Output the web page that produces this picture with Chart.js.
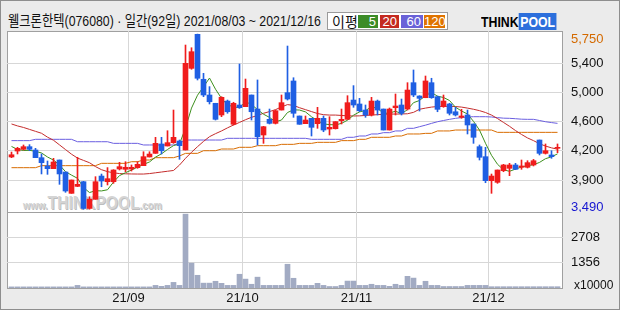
<!DOCTYPE html>
<html>
<head>
<meta charset="utf-8">
<script src="https://cdn.jsdelivr.net/npm/chart.js@4.4.1/dist/chart.umd.min.js"></script>
<style>
body { margin: 0; background: #ebebeb; }
#wrap { position: relative; width: 620px; height: 310px; overflow: hidden; background: #ebebeb; }
#frame { position: absolute; left: 0; top: 0; width: 620px; height: 310px; box-sizing: border-box; border: 1px solid #8e8e8e; }
.panel { position: absolute; left: 7px; width: 556px; box-sizing: border-box; background: #fff; border: 1px solid #a0a0a0; }
#pricebg { top: 31px; height: 182px; }
#volbg { top: 212px; height: 77px; }
canvas { position: absolute; left: 0; }
#price { top: 31px; }
#vol { top: 212px; }
#title { position: absolute; left: 8px; top: 9px; font-size: 15px; color: #111; white-space: nowrap;
  font-family: "Liberation Sans", "Noto Sans CJK KR", sans-serif; transform-origin: 0 0; }
#legend { position: absolute; left: 327px; top: 12px; width: 121px; height: 18px; box-sizing: border-box;
  background: #fff; border: 1px solid #9a9a9a; }
#legend .lb { position: absolute; left: 4px; top: -2px; font-size: 14px; font-family: "Noto Sans CJK KR", sans-serif; color: #111; }
#legend .bx { position: absolute; top: 2px; height: 13px; color: #fff; font-size: 13px; line-height: 13px; text-align: right;
  box-sizing: border-box; padding-right: 2px; font-family: "Liberation Sans", sans-serif; }
#logo { position: absolute; left: 481px; top: 13px; font-size: 15px; font-weight: bold; white-space: nowrap;
  font-family: "Liberation Sans", sans-serif; transform-origin: 0 0; transform: scaleX(0.82); }
#logo .pool { background: #2c6fdc; color: #fff; padding: 0 2px; }
#wm { position: absolute; left: 23px; top: 193px; color: #d4d4d4; white-space: nowrap; text-shadow: 1px 1px 0 #bdbdbd;
  font-family: "Liberation Sans", sans-serif; transform-origin: 0 0; }
#wm .s { font-size: 11px; font-weight: bold; }
#wm .b { font-size: 18px; font-weight: bold; }
#unit { position: absolute; left: 574px; top: 278px; font-size: 12px; color: #111; font-family: "Liberation Sans", sans-serif; }
</style>
</head>
<body>
<div id="wrap">
  <div id="pricebg" class="panel"></div>
  <div id="volbg" class="panel"></div>
  <div id="wm"><span class="s">www.</span><span class="b">THINKPOOL</span><span class="s">.com</span></div>
  <canvas id="price" width="620" height="181"></canvas>
  <canvas id="vol" width="620" height="98"></canvas>
  <div id="title">웰크론한텍(076080) · 일간(92일) 2021/08/03 ~ 2021/12/16</div>
  <div id="legend">
    <span class="lb">이평</span>
    <span class="bx" style="left:30px;width:20px;background:#3c8c28">5</span>
    <span class="bx" style="left:52px;width:19px;background:#c42a20">20</span>
    <span class="bx" style="left:73px;width:22px;background:#6a62d8">60</span>
    <span class="bx" style="left:96px;width:21px;background:#e07400">120</span>
  </div>
  <div id="logo">THINK<span class="pool">POOL</span></div>
  <div id="unit">x10000</div>
  <div id="frame"></div>
</div>
<script>
// daily candles 2021/08/03 ~ 2021/12/16 (92 trading days)
const open = [4164,4241,4263,4297,4254,4155,4048,4013,4125,3970,
  3695,3785,3845,3500,3618,3918,3845,3845,4009,4005,
  4009,4026,4052,4164,4211,4332,4306,4349,4370,4254,
  5308,5747,5167,4964,4857,4706,4886,4586,4835,4813,
  4964,4783,4448,4650,4598,4770,4994,5145,4693,4594,
  4663,4594,4663,4525,4529,4633,4650,4899,4848,4770,
  4706,4886,4783,4512,4800,4835,4783,5123,4951,4929,
  5123,4942,4813,4848,4748,4676,4706,4590,4297,4168,
  3858,3837,3987,4018,4061,4031,4031,4061,4383,4211,
  4190,4276];
const high = [4228,4289,4319,4323,4276,4203,4112,4147,4125,3970,
  3867,4160,3850,3651,3910,3944,4027,4000,4095,4103,
  4061,4103,4232,4232,4418,4418,4503,4770,4383,5609,
  5574,5750,5244,5072,4857,4942,4899,4870,5364,5170,
  4964,5158,4560,4783,4770,4964,5596,5187,4693,4693,
  4663,4805,4693,4684,4620,4783,4955,5085,4921,4835,
  4934,4899,4783,4796,4977,4912,5123,5287,4955,5209,
  5180,4951,4964,4857,4805,4779,4770,4590,4319,4289,
  3944,3996,4069,4082,4082,4125,4116,4133,4383,4332,
  4245,4332];
const low = [4155,4203,4254,4246,4155,3945,3940,4013,3811,3708,
  3695,3781,3490,3490,3618,3780,3803,3824,3996,3974,
  3983,4018,4052,4164,4211,4203,4306,4340,4134,4254,
  5296,5158,4942,4848,4641,4684,4728,4577,4792,4813,
  4641,4319,4340,4590,4590,4770,4899,4676,4586,4594,
  4435,4534,4490,4448,4525,4590,4650,4805,4748,4676,
  4693,4706,4512,4512,4706,4706,4770,4942,4757,4929,
  4921,4748,4805,4706,4693,4663,4461,4340,4125,3832,
  3695,3824,3974,3923,4000,4005,4022,4048,4190,4202,
  4147,4219];
const close = [4193,4276,4297,4263,4155,4091,4013,4099,3945,3725,
  3867,3811,3500,3620,3845,3854,3884,3996,4039,4031,
  4031,4069,4168,4202,4340,4245,4349,4418,4310,5373,
  5523,5180,4964,4877,4650,4934,4748,4857,4800,5050,
  4748,4426,4555,4598,4761,4865,4912,4728,4586,4641,
  4547,4663,4512,4547,4620,4650,4865,4835,4761,4706,
  4886,4770,4512,4783,4822,4728,5028,4964,4921,5145,
  4929,4779,4886,4728,4706,4693,4577,4418,4160,3858,
  3918,3996,4061,4061,4005,4048,4091,4116,4211,4245,
  4168,4280];
// volume, x10000 shares
const volume = [60,60,60,60,60,60,60,60,60,60,
  60,140,60,60,60,60,60,60,60,60,
  60,60,60,60,140,90,140,300,140,3950,
  1330,680,260,260,360,250,140,140,735,475,
  200,580,140,140,140,140,1270,520,140,140,
  140,250,140,80,80,140,370,370,140,140,
  200,140,140,90,200,140,625,530,140,360,
  140,140,80,80,80,80,140,140,140,140,
  70,70,70,70,70,70,70,70,70,70,
  70,70];
// moving averages
const ma5 = [4300,4262,4248,4250,4237,4216,4164,4124,4061,3975,
  3930,3889,3770,3705,3729,3726,3741,3840,3924,3961,
  3996,4033,4068,4100,4162,4205,4261,4311,4332,4539,
  4795,4961,5070,5183,5039,4921,4835,4813,4798,4878,
  4841,4776,4716,4675,4618,4641,4738,4773,4770,4746,
  4683,4633,4590,4582,4578,4598,4639,4703,4746,4763,
  4811,4792,4727,4731,4755,4723,4775,4865,4893,4957,
  4997,4948,4932,4893,4806,4758,4718,4624,4511,4341,
  4186,4070,3999,3979,4008,4034,4053,4064,4094,4142,
  4166,4204];
const ma20 = [4590,4565,4545,4520,4495,4470,4420,4380,4320,4260,
  4200,4150,4120,4090,4040,4000,3975,3960,3950,3947,
  3945,3944,3944,3950,3960,3970,3980,3990,4060,4147,
  4225,4297,4365,4426,4465,4500,4540,4577,4610,4645,
  4676,4700,4728,4750,4775,4810,4840,4830,4800,4775,
  4750,4725,4710,4705,4705,4700,4695,4693,4695,4700,
  4705,4710,4715,4718,4718,4719,4722,4740,4780,4795,
  4808,4815,4818,4818,4815,4808,4795,4780,4762,4738,
  4705,4660,4610,4560,4505,4455,4410,4375,4335,4305,
  4282,4265];
const ma60 = [4375,4375,4375,4375,4392,4392,4392,4392,4392,4392,
  4392,4361,4361,4361,4361,4361,4361,4340,4340,4340,
  4340,4340,4319,4319,4319,4319,4319,4319,4340,4383,
  4383,4383,4383,4383,4383,4383,4405,4405,4405,4405,
  4405,4405,4405,4405,4405,4405,4405,4405,4405,4405,
  4392,4392,4392,4392,4392,4392,4418,4418,4435,4435,
  4461,4461,4478,4478,4500,4500,4534,4534,4555,4575,
  4598,4619,4635,4650,4663,4672,4680,4684,4684,4684,
  4680,4672,4665,4663,4658,4652,4650,4650,4635,4619,
  4608,4598];
const ma120 = [4026,4026,4026,4026,4026,4052,4052,4052,4052,4052,
  4052,4052,4052,4052,4052,4082,4082,4082,4082,4082,
  4103,4103,4125,4125,4155,4155,4155,4155,4177,4211,
  4211,4211,4245,4245,4245,4267,4267,4267,4289,4289,
  4289,4310,4310,4310,4310,4327,4327,4327,4340,4340,
  4340,4353,4353,4353,4353,4375,4375,4375,4392,4392,
  4418,4418,4418,4418,4435,4435,4461,4461,4461,4469,
  4469,4500,4500,4500,4512,4512,4512,4512,4512,4512,
  4512,4482,4482,4482,4482,4482,4482,4482,4482,4482,
  4482,4482];

const monthStart = [20, 39, 58, 80];
const monthLabels = ['21/09', '21/10', '21/11', '21/12'];
const priceTicks = [3866.7, 4243.3, 4620, 4996.7, 5373.3];
const priceTickLabels = ['3,900', '4,200', '4,600', '5,000', '5,400'];
const priceMax = 5750, priceMaxLabel = '5,750';
const priceMin = 3490, priceMinLabel = '3,490';
const volTicks = [1356, 2708];
const volTickLabels = ['1356', '2708'];

const FONT = '"Liberation Sans", sans-serif';
const GRID = '#d7d7d7';
const UP = '#f01c1c', DOWN = '#1f5fe3';

const idx = close.map((c, i) => i);
const candleColor = idx.map(i => close[i] >= open[i] ? UP : DOWN);
const xMin = -0.75, xMax = -0.75 + 556 / 6;

// squeeze the header texts to the width they have in the picture
function fitWidth(id, w) {
  const el = document.getElementById(id);
  el.style.transform = 'scaleX(' + (w / el.scrollWidth) + ')';
}
fitWidth('title', 313);
fitWidth('wm', 139);

function lineSet(values, color, order) {
  return {
    type: 'line',
    data: idx.map(i => ({x: i, y: values[i]})),
    borderColor: color,
    borderWidth: 1,
    pointRadius: 0,
    tension: 0,
    fill: false,
    order: order
  };
}

function noPad(s) {
  s.paddingTop = 0; s.paddingBottom = 0; s.paddingLeft = 0; s.paddingRight = 0;
}

const minMaxLabels = {
  id: 'minMaxLabels',
  afterDraw(chart) {
    const {ctx, chartArea, scales} = chart;
    const y = scales.y;
    ctx.save();
    ctx.font = '13px ' + FONT;
    ctx.textAlign = 'left';
    ctx.textBaseline = 'middle';
    ctx.fillStyle = '#d46a00';
    ctx.fillText(priceMaxLabel, chartArea.right + 8, Math.max(y.getPixelForValue(priceMax), chartArea.top + 8));
    ctx.fillStyle = '#1616d0';
    ctx.fillText(priceMinLabel, chartArea.right + 8, Math.min(y.getPixelForValue(priceMin), chartArea.bottom - 5));
    ctx.restore();
  }
};

new Chart(document.getElementById('price'), {
  type: 'bar',
  data: {
    datasets: [
      {
        data: idx.map(i => ({x: i, y: [open[i], close[i]]})),
        backgroundColor: candleColor,
        barThickness: 5,
        minBarLength: 1,
        grouped: false,
        order: 1
      },
      {
        data: idx.map(i => ({x: i, y: [low[i], high[i]]})),
        backgroundColor: candleColor,
        barThickness: 1,
        grouped: false,
        order: 2
      },
      lineSet(ma5, '#3d8f1e', 3),
      lineSet(ma20, '#c42c2c', 4),
      lineSet(ma60, '#6a5ee0', 5),
      lineSet(ma120, '#d86c00', 6)
    ]
  },
  options: {
    responsive: false,
    animation: false,
    events: [],
    layout: { padding: {left: 7, right: 0, top: 0, bottom: 0}, autoPadding: false },
    plugins: { legend: {display: false}, tooltip: {enabled: false} },
    scales: {
      x: {
        type: 'linear', min: xMin, max: xMax, offset: false,
        afterBuildTicks: s => { s.ticks = monthStart.map(m => ({value: m - 0.5})); },
        afterFit: s => { s.height = 0; noPad(s); },
        ticks: {display: false},
        grid: {color: GRID, drawTicks: false, offset: false},
        border: {display: false}
      },
      y: {
        position: 'right', min: 3454, max: 5790,
        afterBuildTicks: s => { s.ticks = priceTicks.map(v => ({value: v})); },
        afterFit: s => { s.width = 57; noPad(s); },
        ticks: {
          callback: (v, i) => priceTickLabels[i],
          color: '#111', padding: 8,
          font: {family: FONT, size: 13}
        },
        grid: {color: GRID, drawTicks: false},
        border: {display: false}
      }
    }
  },
  plugins: [minMaxLabels]
});

new Chart(document.getElementById('vol'), {
  type: 'bar',
  data: {
    datasets: [{
      data: idx.map(i => ({x: i, y: volume[i]})),
      backgroundColor: '#a2abc3',
      barThickness: 5,
      grouped: false
    }]
  },
  options: {
    responsive: false,
    animation: false,
    events: [],
    layout: { padding: {left: 7, right: 0, top: 0, bottom: 0}, autoPadding: false },
    plugins: { legend: {display: false}, tooltip: {enabled: false} },
    scales: {
      x: {
        type: 'linear', min: xMin, max: xMax, offset: false,
        afterBuildTicks: s => { s.ticks = monthStart.map(m => ({value: m - 0.5})); },
        afterFit: s => { s.height = 22; noPad(s); },
        ticks: {
          callback: (v, i) => monthLabels[i],
          autoSkip: false, maxRotation: 0, padding: 3,
          color: '#111', font: {family: FONT, size: 13}
        },
        grid: {color: GRID, drawTicks: false, offset: false},
        border: {display: false}
      },
      y: {
        position: 'right', min: 0, max: 4064,
        afterBuildTicks: s => { s.ticks = volTicks.map(v => ({value: v})); },
        afterFit: s => { s.width = 57; noPad(s); },
        ticks: {
          callback: (v, i) => volTickLabels[i],
          color: '#111', padding: 8,
          font: {family: FONT, size: 13}
        },
        grid: {color: GRID, drawTicks: false},
        border: {display: false}
      }
    }
  }
});
</script>
</body>
</html>
